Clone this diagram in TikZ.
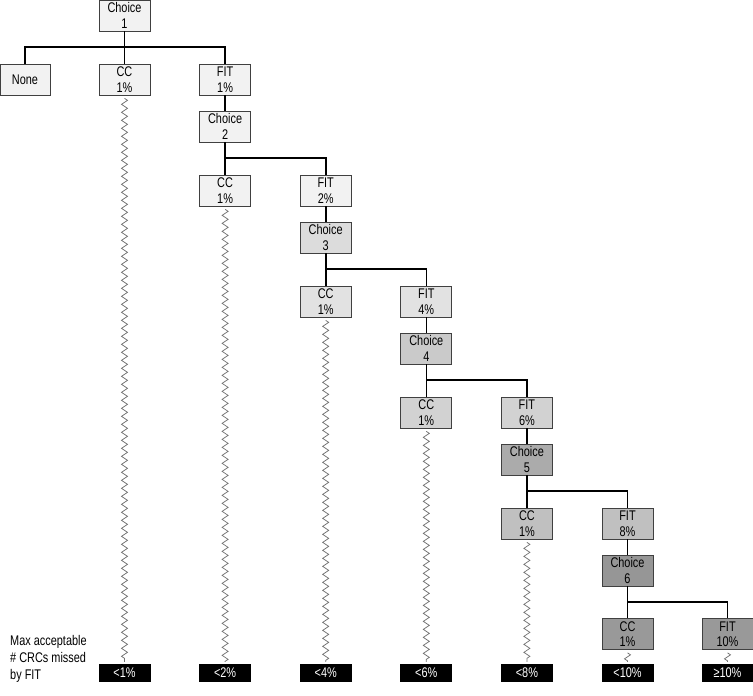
\documentclass[tikz,border=0pt]{standalone}
\usepackage{fontspec}
\setmainfont{Liberation Sans}[FakeStretch=0.78]
\usetikzlibrary{decorations.pathmorphing}
\definecolor{lv1}{HTML}{F2F2F2}
\definecolor{lv2}{HTML}{F2F2F2}
\definecolor{ch3}{HTML}{DCDCDC}
\definecolor{lv3}{HTML}{E2E2E2}
\definecolor{ch4}{HTML}{CACACA}
\definecolor{lv4}{HTML}{D2D2D2}
\definecolor{ch5}{HTML}{ABABAB}
\definecolor{lv5}{HTML}{C0C0C0}
\definecolor{ch6}{HTML}{969696}
\definecolor{lv6}{HTML}{999999}
\begin{document}
\begin{tikzpicture}[x=1pt,y=-1pt,
  box/.style={draw=black!75, line width=0.7pt, minimum width=51pt, minimum height=31pt,
    inner sep=0pt, align=center, font=\fontsize{14}{15.5}\selectfont},
  res/.style={fill=black, text=white, minimum width=52pt, minimum height=18pt,
    inner sep=0pt, font=\fontsize{14}{14}\selectfont},
  link/.style={line width=1.6pt, line join=miter},
  wig/.style={draw=black!55, line width=0.75pt, decorate,
    decoration={zigzag, segment length=8pt, amplitude=3pt}}]
\useasboundingbox (0,0) rectangle (753,696);
% level 1
\node[box, fill=lv1] (ch1) at (124.5,15.5) {Choice\\1};
\node[box, fill=lv1, minimum width=50pt] (none) at (25,79.5) {None};
\node[box, fill=lv1] (cc1) at (124.5,79.5) {CC\\1\%};
\node[box, fill=lv1] (fit1) at (225.1,79.5) {FIT\\1\%};
\coordinate (h1) at (124.5,47);
% level 2
\node[box, fill=lv2] (ch2) at (225.1,126.5) {Choice\\2};
\node[box, fill=lv2] (cc2) at (225.1,190.5) {CC\\1\%};
\node[box, fill=lv2] (fit2) at (325.7,190.5) {FIT\\2\%};
\coordinate (h2) at (225.1,158);
% level 3
\node[box, fill=ch3] (ch3) at (325.7,237.5) {Choice\\3};
\node[box, fill=lv3] (cc3) at (325.7,301.5) {CC\\1\%};
\node[box, fill=lv3] (fit3) at (426.3,301.5) {FIT\\4\%};
\coordinate (h3) at (325.7,269);
% level 4
\node[box, fill=ch4] (ch4) at (426.3,348.5) {Choice\\4};
\node[box, fill=lv4] (cc4) at (426.3,412.5) {CC\\1\%};
\node[box, fill=lv4] (fit4) at (526.9,412.5) {FIT\\6\%};
\coordinate (h4) at (426.3,380);
% level 5
\node[box, fill=ch5] (ch5) at (526.9,459.5) {Choice\\5};
\node[box, fill=lv5] (cc5) at (526.9,523.5) {CC\\1\%};
\node[box, fill=lv5] (fit5) at (627.5,523.5) {FIT\\8\%};
\coordinate (h5) at (526.9,491);
% level 6
\node[box, fill=ch6] (ch6) at (627.5,570.5) {Choice\\6};
\node[box, fill=lv6] (cc6) at (627.5,634) {CC\\1\%};
\node[box, fill=lv6] (fit6) at (727.5,634) {FIT\\10\%};
\coordinate (h6) at (627.5,602);
% results
\node[res] (b1) at (124.5,673) {<1\%};
\node[res] (b2) at (225.1,673) {<2\%};
\node[res] (b3) at (325.7,673) {<4\%};
\node[res] (b4) at (426.3,673) {<6\%};
\node[res] (b5) at (526.9,673) {<8\%};
\node[res] (b6) at (627.5,673) {<10\%};
\node[res] (b7) at (727.5,673) {≥10\%};
\node[align=left, anchor=west, inner sep=0pt, font=\fontsize{14}{17}\selectfont] (lbl) at (10,659) {Max acceptable\\\# CRCs missed\\by FIT};
% connectors
\draw[link] (ch1.south) -- (cc1.north);
\draw[link] (none.north) |- (h1) -| (fit1.north);
\foreach \k in {2,...,6}{
  \draw[link] (ch\k.south) -- (cc\k.north);
  \draw[link] (h\k) -| (fit\k.north);
}
\foreach \a/\b in {fit1/ch2,fit2/ch3,fit3/ch4,fit4/ch5,fit5/ch6}{
  \draw[link] (\a.south) -- (\b.north);
}
\foreach \k in {1,...,6}{
  \draw[wig] ([yshift=-3pt]cc\k.south) -- ([yshift=2pt]b\k.north);
}
\draw[wig] ([yshift=-3pt]fit6.south) -- ([yshift=2pt]b7.north);
\end{tikzpicture}
\end{document}
